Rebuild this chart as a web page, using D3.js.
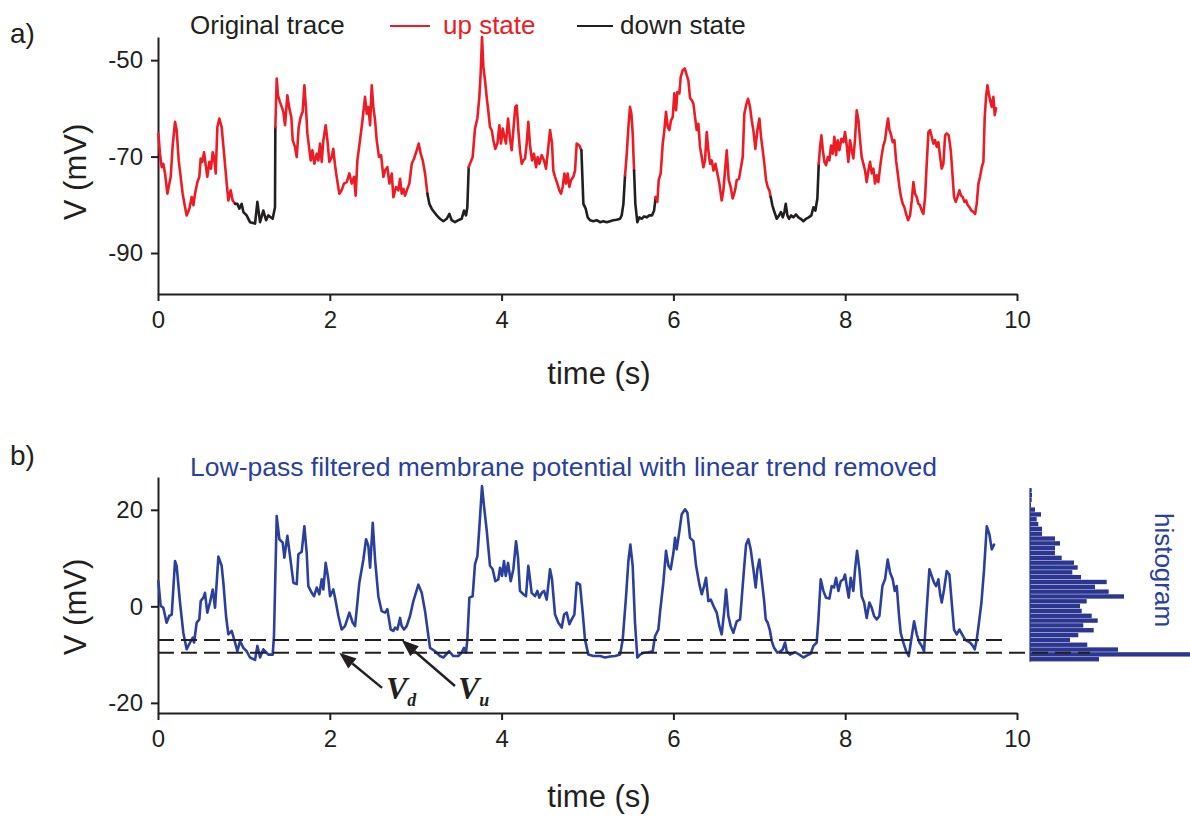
<!DOCTYPE html>
<html>
<head>
<meta charset="utf-8">
<script src="https://cdn.jsdelivr.net/npm/d3@7"></script>
<style>
  body { margin: 0; background: #fff; }
  svg { display: block; }
  text { font-family: "Liberation Sans", Arial, Helvetica, sans-serif; fill: #231f20; }
  text.vlab { font-family: "Liberation Serif", "Times New Roman", serif; font-weight: bold; font-style: italic; }
</style>
</head>
<body>
<svg id="fig" width="1190" height="832"></svg>
<script>
// ---- data ----
const timeTicks = [0, 2, 4, 6, 8, 10];
const rawTicks = [-50, -70, -90];
const filtTicks = [20, 0, -20];

// original membrane potential trace: [time (s), V (mV)]
const rawTrace = [
  [0.004,-65.2],[0.023,-69.4],[0.043,-72.2],[0.062,-71.5],[0.082,-73.5],[0.109,-77.7],[0.132,-75.6],[0.148,-74.2],
  [0.171,-67.7],[0.198,-62.8],[0.217,-64.5],[0.241,-70.8],[0.264,-74.2],[0.287,-77.7],[0.315,-80.5],[0.334,-82.2],
  [0.365,-80.8],[0.392,-78.4],[0.412,-80.1],[0.431,-77.7],[0.458,-75.3],[0.481,-74.2],[0.497,-70.4],[0.516,-71.1],
  [0.536,-69.1],[0.559,-72.2],[0.574,-74.2],[0.598,-71.1],[0.617,-72.5],[0.637,-69.1],[0.652,-70.1],[0.672,-73.5],
  [0.691,-63.9],[0.714,-62.1],[0.741,-63.9],[0.769,-69.4],[0.8,-75.6],[0.819,-79.1],[0.846,-77.0],[0.869,-79.1],
  [0.897,-79.8],[0.924,-79.8],[0.947,-80.8],[0.974,-79.8],[0.994,-81.5],[1.032,-82.2],[1.071,-83.6],[1.13,-83.9],
  [1.157,-79.4],[1.188,-83.6],[1.226,-81.2],[1.258,-83.2],[1.285,-82.2],[1.335,-82.9],[1.362,-80.5],[1.366,-63.9],
  [1.382,-53.8],[1.397,-57.3],[1.42,-58.7],[1.44,-59.7],[1.459,-60.7],[1.479,-63.5],[1.506,-57.3],[1.529,-60.0],
  [1.552,-61.8],[1.568,-66.6],[1.595,-68.0],[1.615,-70.1],[1.638,-63.9],[1.661,-61.8],[1.684,-60.7],[1.704,-55.2],
  [1.723,-60.0],[1.739,-65.2],[1.758,-68.0],[1.778,-70.8],[1.797,-68.7],[1.82,-71.5],[1.848,-69.4],[1.867,-70.8],
  [1.886,-67.3],[1.906,-71.1],[1.925,-66.6],[1.952,-63.5],[1.972,-66.6],[1.995,-71.1],[2.022,-70.1],[2.041,-68.4],
  [2.061,-71.8],[2.08,-74.2],[2.111,-77.7],[2.138,-77.0],[2.165,-75.6],[2.197,-75.3],[2.228,-73.5],[2.255,-75.6],
  [2.282,-74.2],[2.301,-78.1],[2.321,-70.8],[2.352,-66.6],[2.383,-62.1],[2.41,-57.6],[2.43,-61.1],[2.449,-59.7],
  [2.469,-63.5],[2.488,-55.2],[2.507,-59.7],[2.527,-62.5],[2.546,-66.6],[2.573,-70.1],[2.597,-69.7],[2.624,-74.2],
  [2.643,-72.9],[2.67,-72.2],[2.694,-75.6],[2.721,-73.5],[2.74,-78.4],[2.771,-76.3],[2.798,-77.0],[2.818,-74.6],
  [2.837,-77.7],[2.857,-76.7],[2.876,-78.1],[2.903,-76.7],[2.926,-75.6],[2.954,-71.5],[2.981,-70.4],[3.012,-68.7],
  [3.035,-67.3],[3.058,-69.4],[3.082,-70.8],[3.109,-73.5],[3.136,-77.7],[3.159,-79.8],[3.186,-80.8],[3.214,-81.5],
  [3.245,-82.2],[3.283,-82.9],[3.322,-83.4],[3.361,-82.9],[3.392,-81.9],[3.419,-83.2],[3.458,-83.6],[3.496,-83.2],
  [3.535,-82.9],[3.562,-81.2],[3.586,-82.2],[3.601,-80.5],[3.617,-72.2],[3.64,-71.1],[3.663,-70.1],[3.69,-64.2],
  [3.718,-62.1],[3.741,-57.6],[3.756,-52.8],[3.772,-45.2],[3.788,-51.4],[3.807,-54.2],[3.826,-57.6],[3.846,-60.7],
  [3.865,-63.9],[3.885,-64.5],[3.904,-66.6],[3.927,-68.4],[3.951,-67.3],[3.974,-63.5],[3.993,-67.3],[4.013,-64.2],
  [4.032,-65.9],[4.051,-67.3],[4.075,-62.1],[4.098,-66.3],[4.117,-68.7],[4.137,-64.5],[4.16,-59.7],[4.176,-59.4],
  [4.195,-64.5],[4.214,-68.7],[4.234,-71.5],[4.253,-70.8],[4.273,-70.4],[4.292,-67.3],[4.311,-62.8],[4.331,-67.7],
  [4.354,-70.8],[4.377,-69.4],[4.401,-72.2],[4.42,-70.1],[4.439,-71.5],[4.467,-69.7],[4.494,-70.8],[4.517,-72.5],
  [4.54,-68.7],[4.564,-64.5],[4.587,-67.3],[4.602,-72.9],[4.622,-74.2],[4.649,-75.6],[4.672,-77.0],[4.692,-77.7],
  [4.711,-76.3],[4.731,-73.5],[4.75,-75.6],[4.769,-73.5],[4.789,-76.3],[4.808,-74.9],[4.835,-74.2],[4.855,-72.9],
  [4.874,-67.3],[4.905,-67.7],[4.929,-68.7],[4.952,-79.8],[4.979,-80.8],[5.002,-82.6],[5.03,-83.2],[5.068,-83.4],
  [5.107,-83.2],[5.146,-83.6],[5.185,-83.4],[5.224,-83.6],[5.262,-83.4],[5.301,-83.2],[5.34,-83.1],[5.379,-82.9],
  [5.398,-82.2],[5.418,-79.8],[5.437,-73.9],[5.456,-69.7],[5.476,-63.9],[5.495,-59.7],[5.511,-61.1],[5.526,-65.2],
  [5.542,-72.9],[5.557,-79.8],[5.58,-83.6],[5.604,-82.6],[5.631,-82.9],[5.658,-82.4],[5.689,-82.6],[5.72,-82.2],
  [5.751,-82.2],[5.775,-81.2],[5.794,-78.4],[5.813,-79.4],[5.829,-74.9],[5.852,-73.5],[5.876,-67.3],[5.895,-64.5],
  [5.914,-60.7],[5.934,-63.9],[5.953,-64.5],[5.972,-62.5],[5.992,-61.8],[6.011,-56.9],[6.031,-60.4],[6.046,-56.6],
  [6.07,-56.9],[6.085,-53.5],[6.108,-52.1],[6.132,-51.7],[6.155,-53.1],[6.174,-54.2],[6.194,-57.9],[6.213,-58.3],
  [6.233,-59.0],[6.252,-61.8],[6.271,-64.5],[6.291,-63.2],[6.31,-68.0],[6.33,-70.1],[6.349,-72.2],[6.368,-70.8],
  [6.388,-64.9],[6.407,-68.7],[6.427,-71.5],[6.446,-70.8],[6.466,-72.9],[6.489,-71.5],[6.512,-73.5],[6.535,-75.6],
  [6.562,-79.1],[6.582,-77.0],[6.601,-72.9],[6.621,-68.7],[6.644,-74.9],[6.667,-76.3],[6.69,-78.7],[6.718,-77.0],
  [6.737,-74.9],[6.764,-74.6],[6.807,-70.1],[6.826,-61.1],[6.846,-59.4],[6.869,-58.0],[6.892,-59.7],[6.912,-62.5],
  [6.931,-64.5],[6.954,-68.4],[6.978,-64.5],[7.001,-62.1],[7.02,-65.9],[7.04,-68.7],[7.059,-71.5],[7.079,-74.9],
  [7.098,-76.3],[7.117,-77.0],[7.133,-78.4],[7.152,-80.1],[7.176,-81.5],[7.203,-82.9],[7.23,-82.2],[7.253,-81.5],
  [7.273,-82.6],[7.292,-81.5],[7.308,-79.8],[7.327,-82.2],[7.346,-82.9],[7.37,-82.2],[7.397,-82.6],[7.428,-82.0],
  [7.455,-82.6],[7.482,-82.9],[7.513,-83.4],[7.544,-82.9],[7.575,-82.6],[7.606,-82.2],[7.63,-80.5],[7.653,-81.2],
  [7.676,-78.7],[7.692,-71.5],[7.707,-68.0],[7.723,-65.6],[7.738,-68.4],[7.758,-71.1],[7.777,-71.8],[7.797,-70.1],
  [7.816,-70.8],[7.835,-67.7],[7.855,-69.4],[7.874,-65.9],[7.894,-69.7],[7.913,-66.6],[7.932,-68.7],[7.956,-66.3],
  [7.979,-67.0],[7.998,-64.9],[8.018,-67.7],[8.037,-71.1],[8.056,-66.6],[8.076,-68.7],[8.095,-70.4],[8.115,-66.3],
  [8.134,-60.4],[8.154,-62.5],[8.173,-66.6],[8.192,-70.1],[8.212,-71.5],[8.231,-72.9],[8.25,-75.3],[8.27,-72.9],
  [8.289,-71.1],[8.309,-73.5],[8.328,-72.5],[8.347,-75.6],[8.367,-73.9],[8.386,-75.3],[8.406,-72.2],[8.425,-69.7],
  [8.445,-67.7],[8.464,-66.6],[8.483,-63.9],[8.499,-62.1],[8.515,-64.5],[8.53,-65.2],[8.553,-67.0],[8.573,-66.6],
  [8.592,-70.8],[8.612,-73.5],[8.631,-76.3],[8.65,-78.4],[8.67,-79.8],[8.689,-80.5],[8.709,-81.9],[8.732,-83.2],
  [8.755,-82.2],[8.775,-79.1],[8.794,-75.3],[8.813,-77.7],[8.833,-78.4],[8.852,-79.8],[8.871,-80.1],[8.891,-81.2],
  [8.91,-81.9],[8.93,-78.4],[8.949,-71.5],[8.969,-64.9],[8.988,-64.5],[9.007,-65.9],[9.027,-67.3],[9.046,-66.6],
  [9.066,-68.0],[9.085,-67.0],[9.105,-70.1],[9.124,-72.5],[9.143,-71.5],[9.163,-65.6],[9.182,-65.2],[9.205,-65.6],
  [9.229,-68.7],[9.248,-73.5],[9.267,-78.4],[9.287,-79.4],[9.306,-78.4],[9.33,-77.0],[9.349,-78.1],[9.368,-78.4],
  [9.388,-79.4],[9.407,-79.1],[9.427,-80.1],[9.446,-80.5],[9.469,-81.2],[9.493,-81.5],[9.512,-81.9],[9.531,-79.8],
  [9.551,-75.6],[9.57,-74.2],[9.59,-72.2],[9.609,-71.1],[9.624,-61.8],[9.64,-57.6],[9.656,-55.2],[9.671,-56.9],
  [9.687,-58.3],[9.706,-59.7],[9.725,-57.6],[9.741,-61.4],[9.756,-60.0]
];

// down-state intervals (s)
const downStart = [0.905, 3.155, 4.95, 5.55, 7.15];
const downEnd   = [1.366, 3.617, 5.437, 5.80, 7.692];

// low-pass filtered, detrended trace: [time (s), V (mV)]
const filtTrace = [
  [0.004,5.2],[0.031,0.1],[0.062,-0.3],[0.10,-3.4],[0.13,-2.0],[0.16,-1.7],[0.198,9.4],[0.217,8.4],[0.256,0.8],
  [0.295,-5.5],[0.334,-8.9],[0.373,-7.5],[0.404,-6.5],[0.42,-7.5],[0.45,-3.4],[0.481,-2.7],[0.497,1.1],[0.528,1.8],
  [0.547,2.8],[0.574,-1.3],[0.605,0.8],[0.637,3.5],[0.664,-0.3],[0.703,10.3],[0.741,8.4],[0.761,4.9],[0.792,-2.0],
  [0.819,-5.8],[0.858,-5.1],[0.897,-7.5],[0.924,-9.3],[0.955,-7.2],[0.994,-8.6],[1.032,-9.3],[1.071,-10.6],
  [1.13,-11.1],[1.157,-8.2],[1.188,-10.6],[1.226,-8.9],[1.285,-10.0],[1.335,-10.0],[1.35,-6.2],[1.382,18.7],
  [1.413,13.9],[1.452,13.2],[1.471,10.1],[1.506,14.6],[1.537,10.4],[1.576,4.9],[1.615,4.6],[1.634,10.8],[1.673,11.3],
  [1.704,16.6],[1.731,11.1],[1.75,4.2],[1.79,2.8],[1.817,2.1],[1.848,3.9],[1.878,2.5],[1.906,5.6],[1.925,3.5],
  [1.952,9.0],[1.983,5.6],[2.003,2.1],[2.041,3.5],[2.061,1.8],[2.10,-2.0],[2.138,-4.8],[2.177,-4.1],[2.228,-1.3],
  [2.267,-3.4],[2.294,-4.1],[2.344,4.9],[2.391,9.7],[2.422,13.9],[2.449,12.5],[2.469,8.0],[2.50,17.3],[2.527,9.7],
  [2.565,2.1],[2.604,-1.0],[2.643,-1.3],[2.67,-0.6],[2.709,-4.8],[2.74,-5.1],[2.76,-4.4],[2.787,-4.8],[2.818,-2.4],
  [2.837,-4.1],[2.864,-4.8],[2.895,-4.1],[2.934,-2.0],[2.973,1.1],[3.031,4.5],[3.07,2.8],[3.109,-1.0],[3.148,-6.2],
  [3.167,-8.6],[3.225,-9.3],[3.283,-10.3],[3.322,-10.6],[3.39,-9.3],[3.438,-10.3],[3.496,-10.3],[3.535,-9.6],
  [3.562,-8.6],[3.586,-9.6],[3.601,-6.9],[3.625,1.8],[3.663,2.1],[3.69,8.7],[3.718,10.4],[3.741,16.3],[3.772,24.9],
  [3.795,20.8],[3.826,15.9],[3.865,8.4],[3.896,7.7],[3.927,5.2],[3.962,5.6],[3.982,8.0],[4.005,6.3],[4.028,9.4],
  [4.048,6.3],[4.075,9.0],[4.106,5.2],[4.137,7.7],[4.168,13.5],[4.191,10.1],[4.214,3.2],[4.253,2.5],[4.284,2.1],
  [4.311,8.4],[4.331,5.6],[4.35,2.8],[4.389,2.1],[4.416,3.2],[4.439,1.8],[4.467,2.8],[4.494,3.2],[4.525,1.4],
  [4.564,7.7],[4.587,5.6],[4.622,-1.7],[4.661,-3.4],[4.7,-4.4],[4.727,-1.7],[4.758,-1.3],[4.789,-3.7],[4.816,-2.7],
  [4.847,-1.7],[4.874,4.9],[4.913,4.5],[4.944,-1.3],[4.971,-6.9],[5.01,-10.0],[5.068,-10.3],[5.146,-10.3],
  [5.204,-10.6],[5.262,-10.4],[5.32,-10.3],[5.379,-10.0],[5.41,-6.9],[5.449,2.1],[5.476,9.4],[5.499,12.8],
  [5.526,8.4],[5.553,-3.4],[5.58,-10.6],[5.611,-10.0],[5.658,-9.6],[5.709,-9.5],[5.759,-9.3],[5.786,-6.2],
  [5.825,-4.8],[5.844,-1.3],[5.883,4.9],[5.914,11.5],[5.942,8.4],[5.969,7.7],[6.0,11.1],[6.019,14.2],[6.038,11.8],
  [6.07,15.6],[6.097,19.1],[6.136,20.1],[6.163,19.4],[6.194,14.2],[6.233,13.5],[6.264,8.4],[6.303,4.5],[6.33,2.5],
  [6.357,4.2],[6.38,5.9],[6.407,1.1],[6.435,1.4],[6.466,0.1],[6.504,-1.3],[6.535,-4.1],[6.562,-5.8],[6.59,-1.3],
  [6.613,3.5],[6.64,-2.0],[6.667,-4.1],[6.698,-5.5],[6.737,-3.1],[6.776,-2.7],[6.822,7.7],[6.846,12.8],[6.873,13.9],
  [6.9,11.8],[6.931,7.7],[6.958,3.9],[6.978,7.7],[7.001,9.7],[7.028,5.6],[7.055,1.4],[7.075,-2.7],[7.098,-3.4],
  [7.125,-5.1],[7.145,-7.2],[7.172,-8.6],[7.211,-9.6],[7.249,-9.3],[7.273,-8.9],[7.3,-7.5],[7.319,-9.3],[7.358,-10.0],
  [7.416,-9.5],[7.467,-10.0],[7.513,-10.6],[7.552,-10.2],[7.599,-9.8],[7.63,-8.2],[7.668,-7.5],[7.688,-2.7],
  [7.715,5.6],[7.746,3.2],[7.777,1.8],[7.816,1.6],[7.843,4.2],[7.87,3.9],[7.894,5.9],[7.921,3.2],[7.948,5.2],
  [7.979,5.6],[7.998,6.6],[8.018,4.2],[8.041,1.8],[8.064,5.9],[8.095,3.2],[8.115,7.7],[8.138,11.5],[8.165,7.7],
  [8.192,2.1],[8.22,0.8],[8.25,-2.4],[8.282,0.8],[8.309,-0.3],[8.336,-2.0],[8.367,-2.7],[8.398,-2.0],[8.433,4.2],
  [8.464,5.6],[8.495,9.7],[8.522,7.0],[8.553,5.6],[8.577,3.2],[8.6,4.2],[8.627,-2.0],[8.646,-5.5],[8.677,-7.5],
  [8.709,-9.3],[8.74,-10.3],[8.775,-6.2],[8.802,-3.1],[8.833,-5.8],[8.864,-7.5],[8.891,-8.2],[8.918,-9.3],
  [8.949,-0.6],[8.98,7.7],[9.007,6.3],[9.035,4.9],[9.058,4.2],[9.085,5.6],[9.105,2.5],[9.124,0.8],[9.151,3.5],
  [9.182,7.3],[9.213,6.6],[9.24,0.8],[9.267,-4.8],[9.298,-5.8],[9.329,-4.8],[9.361,-5.8],[9.396,-6.9],[9.423,-7.2],
  [9.454,-7.5],[9.485,-8.2],[9.508,-8.9],[9.531,-6.9],[9.555,-3.7],[9.586,0.8],[9.617,7.7],[9.648,16.6],
  [9.679,14.9],[9.706,11.8],[9.733,12.8]
];

// state thresholds (mV)
const thresholdUp = -7.0;
const thresholdDown = -9.6;

// histogram of the filtered trace, 1 mV bins
const histCenters = [24,23,22,21,20,19,18,17,16,15,14,13,12,11,10,9,8,7,6,5,4,3,2,1,0,-1,-2,-3,-4,-5,-6,-7,-8,-9,-10,-11];
const histCounts  = [1.7,2,1.7,1,5,11,6.7,8.3,12,12,25,30,25,25,31.7,44,47.7,42.3,51,76.7,65,78.7,94,56.7,50,51.7,61.7,67.7,53.3,63.7,48.3,40,57.3,88,160,69];

// ---- colours ----
const RED = "#ed1c24", BLACK = "#231f20", BLUE = "#2b3f9c", BAR = "#2b3690";

const svg = d3.select("#fig");

// ---- scales ----
const x = d3.scaleLinear().domain([0, 10]).range([158, 1017]);
const yRaw = d3.scaleLinear().domain([-98.5, -45.2]).range([294, 37]);
const yFilt = d3.scaleLinear().domain([-22.1, 26.8]).range([713, 477]);
const xHist = d3.scaleLinear().domain([0, 160]).range([1030, 1190]);

const fmt = d => String(d);   // plain hyphen-minus, as on the printed axes

function styleAxis(g) {
  g.select(".domain").attr("stroke", BLACK).attr("stroke-width", 2);
  g.selectAll(".tick line").attr("stroke", BLACK).attr("stroke-width", 2);
  g.selectAll(".tick text").attr("font-size", 24).style("fill", BLACK);
}

// ================= panel a =================
const gA = svg.append("g");
gA.append("g").attr("transform", "translate(0,294)")
  .call(d3.axisBottom(x).tickValues(timeTicks).tickSize(7).tickSizeOuter(0).tickPadding(10).tickFormat(fmt))
  .call(styleAxis);
gA.append("g").attr("transform", "translate(158,0)")
  .call(d3.axisLeft(yRaw).tickValues(rawTicks).tickSize(7).tickSizeOuter(0).tickPadding(8).tickFormat(fmt))
  .call(styleAxis);

// split the raw trace into up / down runs
const isDown = t => downStart.some((s, i) => t >= s && t <= downEnd[i]);
const runs = [];
let cur = null;
rawTrace.forEach(p => {
  const st = isDown(p[0]);
  if (!cur || cur.down !== st) {
    cur = { down: st, pts: cur ? [cur.pts[cur.pts.length - 1]] : [] };
    runs.push(cur);
  }
  cur.pts.push(p);
});
const lineRaw = d3.line().x(d => x(d[0])).y(d => yRaw(d[1]));
gA.selectAll("path.run").data(runs).join("path")
  .attr("class", "run")
  .attr("d", d => lineRaw(d.pts))
  .attr("fill", "none")
  .attr("stroke", d => d.down ? BLACK : RED)
  .attr("stroke-width", 2.6)
  .attr("stroke-linejoin", "round")
  .attr("stroke-linecap", "round");

// legend
gA.append("text").attr("x", 190).attr("y", 34).attr("font-size", 26).text("Original trace");
gA.append("line").attr("x1", 390).attr("x2", 430).attr("y1", 26).attr("y2", 26).attr("stroke", RED).attr("stroke-width", 2);
gA.append("text").attr("x", 443).attr("y", 34).attr("font-size", 26).style("fill", RED).text("up state");
gA.append("line").attr("x1", 577).attr("x2", 613).attr("y1", 26).attr("y2", 26).attr("stroke", BLACK).attr("stroke-width", 2);
gA.append("text").attr("x", 620).attr("y", 34).attr("font-size", 26).text("down state");

gA.append("text").attr("x", 10).attr("y", 43).attr("font-size", 28).text("a)");
gA.append("text").attr("transform", "translate(86,172) rotate(-90)")
  .attr("text-anchor", "middle").attr("font-size", 31).text("V (mV)");
gA.append("text").attr("x", 599).attr("y", 384).attr("text-anchor", "middle").attr("font-size", 31).text("time (s)");

// ================= panel b =================
const gB = svg.append("g");
gB.append("g").attr("transform", "translate(0,713)")
  .call(d3.axisBottom(x).tickValues(timeTicks).tickSize(7).tickSizeOuter(0).tickPadding(10).tickFormat(fmt))
  .call(styleAxis);
gB.append("g").attr("transform", "translate(158,0)")
  .call(d3.axisLeft(yFilt).tickValues(filtTicks).tickSize(7).tickSizeOuter(0).tickPadding(8).tickFormat(fmt))
  .call(styleAxis);

// histogram (bars drawn on the filtered-trace V scale)
gB.selectAll("rect.bin").data(histCenters).join("rect")
  .attr("class", "bin")
  .attr("x", xHist(0))
  .attr("y", c => yFilt(c + 0.5))
  .attr("width", (c, i) => xHist(histCounts[i]) - xHist(0))
  .attr("height", c => yFilt(c - 0.5) - yFilt(c + 0.5) - 0.45)
  .attr("fill", BAR);
gB.append("line")
  .attr("x1", xHist(0)).attr("x2", xHist(0))
  .attr("y1", yFilt(histCenters[0] + 0.5)).attr("y2", yFilt(histCenters[histCenters.length - 1] - 0.5))
  .attr("stroke", BAR).attr("stroke-width", 1.2);

// filtered trace
const lineFilt = d3.line().x(d => x(d[0])).y(d => yFilt(d[1]));
gB.append("path").datum(filtTrace)
  .attr("d", lineFilt)
  .attr("fill", "none")
  .attr("stroke", BLUE)
  .attr("stroke-width", 2.6)
  .attr("stroke-linejoin", "round")
  .attr("stroke-linecap", "round");

// thresholds
gB.append("line")
  .attr("x1", x(0)).attr("x2", x(9.86))
  .attr("y1", yFilt(thresholdUp)).attr("y2", yFilt(thresholdUp))
  .attr("stroke", BLACK).attr("stroke-width", 2).attr("stroke-dasharray", "16,7");
gB.append("line")
  .attr("x1", x(0)).attr("x2", x(10.85))
  .attr("y1", yFilt(thresholdDown)).attr("y2", yFilt(thresholdDown))
  .attr("stroke", BLACK).attr("stroke-width", 2).attr("stroke-dasharray", "16,7");

// arrows pointing at the thresholds
function arrow(t0, v0, t1, v1) {
  const x0 = x(t0), y0 = yFilt(v0), x1 = x(t1), y1 = yFilt(v1);
  const a = Math.atan2(y1 - y0, x1 - x0), L = 17, W = 6.5;
  const bx = x1 - L * Math.cos(a), by = y1 - L * Math.sin(a);
  gB.append("line").attr("x1", x0).attr("y1", y0).attr("x2", bx).attr("y2", by)
    .attr("stroke", BLACK).attr("stroke-width", 2.4);
  gB.append("path")
    .attr("d", `M${x1},${y1}L${bx + W * Math.sin(a)},${by - W * Math.cos(a)}L${bx - W * Math.sin(a)},${by + W * Math.cos(a)}Z`)
    .attr("fill", BLACK);
}
arrow(2.608, -16.9, 2.11, thresholdDown);
arrow(3.457, -16.5, 2.837, thresholdUp);

function vLabel(t, v, sub) {
  const tx = gB.append("text").attr("class", "vlab").attr("x", x(t)).attr("y", yFilt(v));
  tx.append("tspan").attr("font-size", 32).text("V");
  tx.append("tspan").attr("font-size", 18).attr("dy", 7).text(sub);
}
vLabel(2.654, -19.2, "d");
vLabel(3.492, -19.2, "u");

gB.append("text").attr("x", 190).attr("y", 476).attr("font-size", 26)
  .attr("textLength", 747).attr("lengthAdjust", "spacingAndGlyphs")
  .style("fill", BLUE)
  .text("Low-pass filtered membrane potential with linear trend removed");
gB.append("text").attr("transform", "translate(1155,570) rotate(90)")
  .attr("text-anchor", "middle").attr("font-size", 26).style("fill", BLUE).text("histogram");

gB.append("text").attr("x", 10).attr("y", 465).attr("font-size", 28).text("b)");
gB.append("text").attr("transform", "translate(86,607) rotate(-90)")
  .attr("text-anchor", "middle").attr("font-size", 31).text("V (mV)");
gB.append("text").attr("x", 599).attr("y", 807).attr("text-anchor", "middle").attr("font-size", 31).text("time (s)");
</script>
</body>
</html>
